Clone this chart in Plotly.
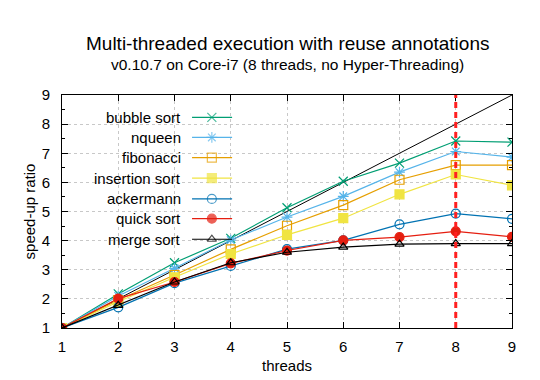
import plotly.graph_objects as go

threads = [1, 2, 3, 4, 5, 6, 7, 8, 9]
bubble_sort = [1.0, 2.17, 3.24, 4.08, 5.13, 6.04, 6.66, 7.42, 7.38]
nqueen = [1.0, 2.10, 3.05, 4.02, 4.81, 5.52, 6.35, 7.06, 6.87]
fibonacci = [1.0, 1.96, 2.82, 3.70, 4.51, 5.22, 6.09, 6.59, 6.59]
insertion_sort = [1.0, 1.90, 2.74, 3.54, 4.20, 4.77, 5.59, 6.27, 5.90]
ackermann = [1.0, 1.71, 2.54, 3.13, 3.71, 4.01, 4.56, 4.93, 4.75]
quick_sort = [1.0, 2.01, 2.58, 3.22, 3.66, 4.01, 4.12, 4.32, 4.13]
merge_sort = [1.0, 1.78, 2.58, 3.24, 3.60, 3.78, 3.88, 3.90, 3.90]
ideal = [1, 9]
hw_threads = 8

series = [
    ("bubble sort", bubble_sort, "#009e73", "x-thin-open", 9),
    ("nqueen", nqueen, "#56b4e9", "asterisk-open", 9),
    ("fibonacci", fibonacci, "#e69f00", "square-open", 9),
    ("insertion sort", insertion_sort, "#f0e442", "square", 9),
    ("ackermann", ackermann, "#0072b2", "circle-open", 9),
    ("quick sort", quick_sort, "#e51e10", "circle", 9),
    ("merge sort", merge_sort, "#000000", "triangle-up-open", 8),
]

FONT = "Liberation Sans, Arial, sans-serif"
fig = go.Figure()

fig.add_trace(go.Scatter(x=ideal, y=ideal, mode="lines",
                         line=dict(color="black", width=1), showlegend=False))

for name, vals, color, sym, sz in series:
    fig.add_trace(go.Scatter(
        x=threads, y=vals, mode="lines+markers", name=name,
        line=dict(color=color, width=1.2),
        marker=dict(symbol=sym, size=sz, color=color,
                    line=dict(color=color, width=1.2)),
        showlegend=False))

annotations = []
# custom gnuplot-style key (text right-aligned, sample to the right)
key_y = [0.904, 0.818, 0.731, 0.643, 0.554, 0.469, 0.381]
key_text_x = 0.268
key_x0, key_xm, key_x1 = 0.289, 0.333, 0.378
for (name, vals, color, sym, sz), ky in zip(series, key_y):
    annotations.append(dict(x=key_text_x, y=ky, xref="paper", yref="paper",
                            text=name, showarrow=False, xanchor="right",
                            yanchor="middle",
                            font=dict(family=FONT, size=15, color="black")))
    fig.add_trace(go.Scatter(
        x=[key_x0, key_xm, key_x1], y=[ky, ky, ky], xaxis="x2", yaxis="y2",
        mode="lines+markers", line=dict(color=color, width=1.2),
        marker=dict(symbol=sym, size=[0, sz, 0], color=color,
                    line=dict(color=color, width=1.2)),
        showlegend=False, hoverinfo="skip"))

annotations += [
    dict(x=0.5, y=1, xref="paper", yref="paper", yshift=52,
         text="Multi-threaded execution with reuse annotations",
         showarrow=False, xanchor="center", yanchor="middle",
         font=dict(family=FONT, size=19, color="black")),
    dict(x=0.5, y=1, xref="paper", yref="paper", yshift=31,
         text="v0.10.7 on Core-i7 (8 threads, no Hyper-Threading)",
         showarrow=False, xanchor="center", yanchor="middle",
         font=dict(family=FONT, size=15.5, color="black")),
]

fig.add_shape(type="line", x0=hw_threads, x1=hw_threads, y0=0, y1=1,
              xref="x", yref="paper",
              line=dict(color="#ff2020", width=3, dash="6px,4px"))

fig.update_layout(
    width=532, height=372,
    margin=dict(l=54, r=28, t=87, b=52, autoexpand=False),
    paper_bgcolor="white", plot_bgcolor="white",
    font=dict(family=FONT, size=14, color="black"),
    showlegend=False,
    annotations=annotations,
    xaxis=dict(range=[1, 9], dtick=1, tick0=1, showline=True, linecolor="black",
               linewidth=1, mirror="allticks", ticks="inside", ticklen=6,
               tickcolor="black", showgrid=True, gridcolor="#c8c8c8",
               griddash="dot", gridwidth=1, zeroline=False, automargin=False,
               ticklabelstandoff=5, tickfont=dict(size=15),
               title=dict(text="threads", standoff=6,
                          font=dict(family=FONT, size=15))),
    yaxis=dict(range=[1, 9], dtick=1, tick0=1, showline=True, linecolor="black",
               linewidth=1, mirror="allticks", ticks="inside", ticklen=6,
               tickcolor="black", showgrid=True, gridcolor="#c8c8c8",
               griddash="dot", gridwidth=1, zeroline=False, automargin=False,
               ticklabelstandoff=8, tickfont=dict(size=15),
               minor=dict(dtick=0.5, ticks="inside", ticklen=3,
                          tickcolor="black", showgrid=False),
               title=dict(text="speed-up ratio", standoff=2,
                          font=dict(family=FONT, size=15))),
    xaxis2=dict(range=[0, 1], overlaying="x", visible=False, fixedrange=True),
    yaxis2=dict(range=[0, 1], overlaying="y", visible=False, fixedrange=True),
)

fig.write_html("out.html")
